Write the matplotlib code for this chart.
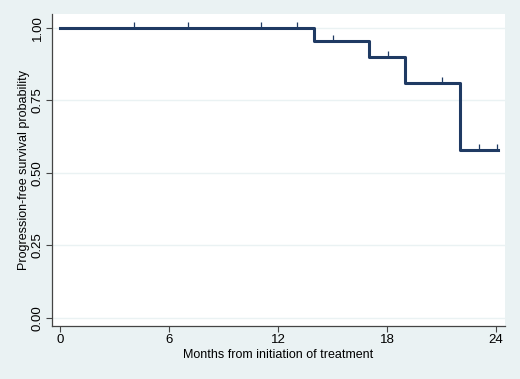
import matplotlib.pyplot as plt

plt.rcParams['font.family'] = ['Liberation Sans', 'DejaVu Sans']

# Kaplan-Meier step curve
event_times = [0, 14, 17, 19, 22, 24.1]
survival = [1.0, 0.955, 0.90, 0.81, 0.58, 0.58]

# censored observations
censor_times = [4.05, 7.05, 11.05, 13.05, 15.05, 18.05, 21.05, 23.05, 24.05]
censor_surv = [1.0, 1.0, 1.0, 1.0, 0.955, 0.90, 0.81, 0.58, 0.58]

x_ticks = [0, 6, 12, 18, 24]
y_ticks = [0.0, 0.25, 0.50, 0.75, 1.00]
y_labels = ['0.00', '0.25', '0.50', '0.75', '1.00']

bg = '#eaf2f3'
navy = '#1f3a63'

fig = plt.figure(figsize=(5.2, 3.79), dpi=100, facecolor=bg)
ax = fig.add_axes([52/520, 1-326/379, (505-52)/520, (326-14)/379])
ax.set_facecolor('white')

for y in y_ticks:
    ax.axhline(y, color=bg, lw=1.0, zorder=0)

ax.step(event_times, survival, where='post', color=navy, lw=2.2, zorder=3)
ax.vlines(censor_times, censor_surv, [s + 0.02 for s in censor_surv],
          color=navy, lw=0.9, zorder=3)

ax.set_xlim(-0.44, 24.49)
ax.set_ylim(-0.0287, 1.048)
ax.set_xticks(x_ticks)
ax.set_yticks(y_ticks)
ax.set_yticklabels(y_labels, rotation=90, va='center')

for s in ['top', 'right']:
    ax.spines[s].set_visible(False)
for s in ['left', 'bottom']:
    ax.spines[s].set_color('#444444')
    ax.spines[s].set_linewidth(0.9)

ax.tick_params(axis='both', colors='#444444', length=4, width=0.8,
               labelsize=9.5, labelcolor='black', pad=2)
ax.set_xlabel('Months from initiation of treatment', fontsize=9, labelpad=2)
ax.set_ylabel('Progression-free survival probability', fontsize=9, labelpad=1)

fig.savefig('out.png', dpi=100, facecolor=bg)
